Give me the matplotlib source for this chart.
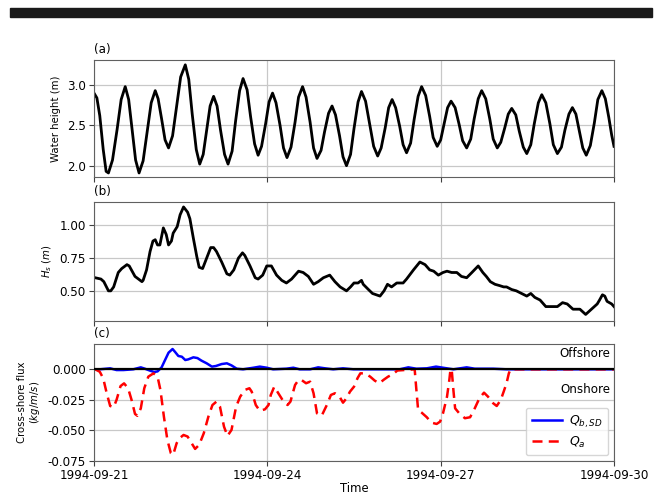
import numpy as np
import matplotlib
matplotlib.use("Agg")
import matplotlib.pyplot as plt
import matplotlib.dates as mdates
from matplotlib.patches import Rectangle

# time axis: days after 1994-09-21 00:00
start = np.datetime64("1994-09-21T00:00")

# (a) water height (m)
wl_t = [0.00, 0.05, 0.10, 0.16, 0.21, 0.25, 0.32, 0.40, 0.47, 0.54, 0.60, 0.66, 0.72, 0.78,
        0.85, 0.92, 0.99, 1.06, 1.11, 1.17, 1.23, 1.29, 1.36, 1.43, 1.50, 1.58, 1.64, 1.70,
        1.77, 1.83, 1.89, 1.95, 2.01, 2.07, 2.13, 2.19, 2.26, 2.32, 2.39, 2.45, 2.52, 2.58,
        2.65, 2.71, 2.78, 2.84, 2.90, 2.97, 3.03, 3.09, 3.15, 3.22, 3.28, 3.34, 3.41, 3.48,
        3.54, 3.61, 3.67, 3.74, 3.80, 3.86, 3.93, 3.99, 4.06, 4.12, 4.18, 4.25, 4.31, 4.37,
        4.44, 4.50, 4.57, 4.63, 4.70, 4.77, 4.84, 4.91, 4.97, 5.04, 5.10, 5.16, 5.22, 5.29,
        5.35, 5.41, 5.48, 5.54, 5.61, 5.67, 5.74, 5.81, 5.87, 5.94, 6.00, 6.06, 6.12, 6.18,
        6.25, 6.32, 6.38, 6.45, 6.52, 6.58, 6.65, 6.71, 6.78, 6.85, 6.91, 6.98, 7.04, 7.11,
        7.17, 7.23, 7.30, 7.36, 7.43, 7.49, 7.56, 7.62, 7.69, 7.75, 7.82, 7.89, 7.95, 8.02,
        8.09, 8.15, 8.22, 8.28, 8.34, 8.40, 8.46, 8.52, 8.59, 8.66, 8.72, 8.79, 8.85, 8.91,
        8.96, 9.00]
wl = [2.90, 2.84, 2.62, 2.20, 1.93, 1.91, 2.07, 2.45, 2.82, 2.98, 2.82, 2.45, 2.07, 1.91,
      2.06, 2.42, 2.78, 2.93, 2.83, 2.58, 2.32, 2.22, 2.37, 2.74, 3.10, 3.25, 3.07, 2.64,
      2.20, 2.02, 2.14, 2.44, 2.74, 2.86, 2.74, 2.44, 2.14, 2.02, 2.18, 2.55, 2.93, 3.08,
      2.94, 2.61, 2.27, 2.13, 2.24, 2.52, 2.79, 2.90, 2.78, 2.50, 2.22, 2.10, 2.23, 2.54,
      2.85, 2.98, 2.85, 2.54, 2.22, 2.09, 2.19, 2.42, 2.65, 2.74, 2.63, 2.37, 2.11, 2.00,
      2.14, 2.46, 2.79, 2.92, 2.80, 2.52, 2.24, 2.12, 2.22, 2.47, 2.72, 2.82, 2.72, 2.49,
      2.26, 2.16, 2.28, 2.57, 2.86, 2.98, 2.87, 2.61, 2.35, 2.24, 2.32, 2.52, 2.72, 2.80,
      2.72, 2.51, 2.31, 2.22, 2.33, 2.58, 2.83, 2.93, 2.83, 2.58, 2.33, 2.22, 2.29, 2.47,
      2.64, 2.71, 2.63, 2.43, 2.23, 2.15, 2.26, 2.52, 2.78, 2.88, 2.78, 2.52, 2.26, 2.15,
      2.23, 2.44, 2.64, 2.72, 2.64, 2.43, 2.22, 2.13, 2.25, 2.53, 2.82, 2.93, 2.83, 2.60,
      2.38, 2.24]

# (b) significant wave height Hs (m)
hs_t = [0.02, 0.12, 0.17, 0.25, 0.29, 0.34, 0.42, 0.48, 0.57, 0.61, 0.71, 0.77, 0.83, 0.85,
        0.91, 0.97, 1.02, 1.06, 1.10, 1.14, 1.20, 1.25, 1.29, 1.34, 1.37, 1.44, 1.49, 1.55,
        1.62, 1.66, 1.72, 1.78, 1.82, 1.88, 1.95, 2.02, 2.07, 2.12, 2.21, 2.30, 2.35, 2.42,
        2.50, 2.57, 2.61, 2.70, 2.79, 2.84, 2.92, 2.99, 3.07, 3.16, 3.25, 3.33, 3.42, 3.54,
        3.62, 3.71, 3.80, 3.88, 3.97, 4.08, 4.17, 4.26, 4.37, 4.44, 4.50, 4.57, 4.63, 4.66,
        4.75, 4.82, 4.95, 5.02, 5.08, 5.15, 5.24, 5.35, 5.41, 5.53, 5.64, 5.73, 5.81, 5.88,
        5.96, 6.04, 6.11, 6.19, 6.28, 6.36, 6.45, 6.54, 6.65, 6.73, 6.79, 6.86, 6.94, 7.02,
        7.09, 7.14, 7.23, 7.31, 7.40, 7.49, 7.56, 7.63, 7.72, 7.82, 7.92, 8.02, 8.11, 8.19,
        8.29, 8.41, 8.51, 8.61, 8.71, 8.75, 8.80, 8.84, 8.88, 8.96, 9.00]
hs = [0.60, 0.59, 0.57, 0.50, 0.50, 0.53, 0.64, 0.67, 0.70, 0.69, 0.61, 0.59, 0.57, 0.58,
      0.66, 0.80, 0.88, 0.89, 0.85, 0.85, 0.98, 0.93, 0.85, 0.88, 0.94, 0.99, 1.08, 1.14,
      1.10, 1.05, 0.90, 0.76, 0.68, 0.67, 0.75, 0.83, 0.83, 0.80, 0.72, 0.63, 0.62, 0.66,
      0.75, 0.79, 0.77, 0.69, 0.60, 0.59, 0.62, 0.69, 0.69, 0.62, 0.58, 0.56, 0.59, 0.65,
      0.64, 0.61, 0.55, 0.57, 0.60, 0.62, 0.57, 0.53, 0.50, 0.53, 0.56, 0.56, 0.58, 0.55,
      0.51, 0.48, 0.46, 0.50, 0.55, 0.53, 0.56, 0.56, 0.59, 0.66, 0.72, 0.70, 0.66, 0.65,
      0.62, 0.64, 0.65, 0.64, 0.64, 0.61, 0.60, 0.64, 0.69, 0.64, 0.61, 0.57, 0.55, 0.54,
      0.53, 0.53, 0.51, 0.50, 0.48, 0.46, 0.48, 0.45, 0.43, 0.38, 0.38, 0.38, 0.41, 0.40,
      0.36, 0.36, 0.32, 0.36, 0.40, 0.43, 0.47, 0.46, 0.42, 0.40, 0.38]

# (c) cross-shore flux (kg/m/s)
qb_t = [0.02, 0.10, 0.28, 0.39, 0.51, 0.68, 0.81, 0.88, 0.97, 1.04, 1.10, 1.17, 1.23, 1.29,
        1.36, 1.40, 1.46, 1.52, 1.58, 1.63, 1.72, 1.79, 1.86, 1.95, 2.04, 2.11, 2.21, 2.30,
        2.38, 2.47, 2.58, 2.76, 2.87, 2.99, 3.10, 3.33, 3.45, 3.56, 3.74, 3.88, 4.00, 4.14,
        4.31, 4.49, 5.29, 5.44, 5.58, 5.76, 5.92, 6.04, 6.22, 6.45, 6.59, 6.91, 7.14, 9.00]
qb = [0.0, 0.0, 0.0008, -0.0006, -0.0006, 0.0, 0.0016, 0.0005, -0.0011, -0.0022, -0.0017,
      0.0016, 0.0076, 0.0136, 0.0166, 0.0144, 0.0109, 0.0103, 0.0076, 0.0081, 0.0098, 0.0092,
      0.0071, 0.0049, 0.0022, 0.0027, 0.0043, 0.0049, 0.0032, 0.0005, 0.0, 0.0013, 0.0022,
      0.0013, 0.0, 0.0005, 0.0013, 0.0, 0.0, 0.0016, 0.0008, 0.0, 0.0008, 0.0, 0.0, 0.0016,
      0.0005, 0.0008, 0.0022, 0.0013, 0.0, 0.0016, 0.0005, 0.0005, 0.0, 0.0]

qa_t = [0.02, 0.10, 0.16, 0.22, 0.28, 0.34, 0.39, 0.46, 0.52, 0.59, 0.65, 0.71, 0.75, 0.81,
        0.87, 0.94, 1.03, 1.10, 1.15, 1.21, 1.27, 1.33, 1.37, 1.43, 1.48, 1.55, 1.62, 1.69,
        1.75, 1.82, 1.90, 1.98, 2.05, 2.12, 2.18, 2.25, 2.31, 2.38, 2.46, 2.53, 2.61, 2.69,
        2.73, 2.80, 2.87, 2.96, 3.02, 3.06, 3.12, 3.19, 3.27, 3.35, 3.40, 3.48, 3.54, 3.59,
        3.67, 3.74, 3.80, 3.86, 3.94, 4.03, 4.10, 4.17, 4.25, 4.31, 4.37, 4.43, 4.50, 4.56,
        4.61, 4.69, 4.78, 4.86, 4.94, 5.01, 5.09, 5.18, 5.25, 5.55, 5.58, 5.61, 5.67, 5.76,
        5.84, 5.93, 5.99, 6.04, 6.11, 6.15, 6.17, 6.19, 6.22, 6.25, 6.33, 6.42, 6.51, 6.59,
        6.67, 6.75, 6.82, 6.91, 6.97, 7.04, 7.09, 7.14, 7.18, 7.21, 9.00]
qa = [0.0, -0.002, -0.0074, -0.0196, -0.030, -0.031, -0.025, -0.0137, -0.0115, -0.0155,
      -0.025, -0.0365, -0.038, -0.032, -0.0155, -0.006, -0.0033, -0.006, -0.017, -0.0387,
      -0.0578, -0.0686, -0.070, -0.0605, -0.0564, -0.0537, -0.055, -0.0605, -0.0651, -0.0618,
      -0.0523, -0.0387, -0.0292, -0.0264, -0.0305, -0.0469, -0.0545, -0.0496, -0.0305, -0.0224,
      -0.0169, -0.0155, -0.0183, -0.0292, -0.034, -0.0327, -0.0292, -0.021, -0.0142, -0.0196,
      -0.0256, -0.0292, -0.0264, -0.0128, -0.0087, -0.0087, -0.0114, -0.0101, -0.0196, -0.036,
      -0.038, -0.0292, -0.021, -0.0196, -0.0224, -0.0273, -0.0237, -0.0183, -0.0142, -0.0074,
      -0.0033, -0.0033, -0.006, -0.0093, -0.0114, -0.0087, -0.006, -0.0038, -0.001, 0.0,
      -0.0169, -0.0332, -0.0354, -0.0392, -0.0436, -0.0447, -0.0428, -0.036, -0.0224, -0.0087,
      0.0, 0.0, -0.0169, -0.0319, -0.0365, -0.040, -0.0392, -0.0319, -0.0237, -0.0191,
      -0.0224, -0.0278, -0.030, -0.025, -0.0183, -0.0114, -0.0033, 0.0, 0.0]


def to_dates(days):
    return start + (np.array(days) * 24 * 60).round().astype("timedelta64[m]")


plt.rcParams["font.family"] = ["DejaVu Sans"]
plt.rcParams["font.size"] = 8.6

fig = plt.figure(figsize=(6.59, 4.95), dpi=100)
# black bar across the top of the page
fig.patches.append(Rectangle((10 / 659, 1 - 17 / 495), 642 / 659, 9 / 495,
                             transform=fig.transFigure, color="#1a1a1a", zorder=0))

left, width = 94 / 659, 520 / 659
ax_a = fig.add_axes([left, 1 - 177 / 495, width, 117 / 495])
ax_b = fig.add_axes([left, 1 - 321 / 495, width, 119.3 / 495], sharex=ax_a)
ax_c = fig.add_axes([left, 1 - 461 / 495, width, 117 / 495], sharex=ax_a)

ax_a.plot(to_dates(wl_t), wl, color="black", lw=2)
ax_b.plot(to_dates(hs_t), hs, color="black", lw=2)
ax_c.axhline(0, color="black", lw=1.6, zorder=3)
ax_c.plot(to_dates(qb_t), qb, color="blue", lw=1.8, label=r"$Q_{b,SD}$")
ax_c.plot(to_dates(qa_t), qa, color="red", lw=1.8, ls=(0, (4, 2.5)), label=r"$Q_a$")

ax_a.set_ylim(1.86, 3.31)
ax_a.set_yticks([2.0, 2.5, 3.0])
ax_b.set_ylim(0.27, 1.18)
ax_b.set_yticks([0.50, 0.75, 1.00])
ax_c.set_ylim(-0.075, 0.0207)
ax_c.set_yticks([-0.075, -0.05, -0.025, 0.0])
ax_c.yaxis.set_major_formatter(matplotlib.ticker.FormatStrFormatter("%.3f"))
ax_b.yaxis.set_major_formatter(matplotlib.ticker.FormatStrFormatter("%.2f"))

ax_c.set_xlim(np.datetime64("1994-09-21"), np.datetime64("1994-09-30"))
ax_c.xaxis.set_major_locator(mdates.DayLocator(bymonthday=[21, 24, 27, 30]))
ax_c.xaxis.set_major_formatter(mdates.DateFormatter("%Y-%m-%d"))

for ax, lab in zip([ax_a, ax_b, ax_c], ["(a)", "(b)", "(c)"]):
    ax.grid(True, color="#c8c8c8", lw=0.9)
    for s in ax.spines.values():
        s.set_color("#606060")
    ax.tick_params(colors="#404040", labelcolor="black", length=3.5, pad=2.5)
    ax.text(0.0, 1.03, lab, transform=ax.transAxes, ha="left", va="bottom")
ax_a.tick_params(labelbottom=False)
ax_b.tick_params(labelbottom=False)

ax_a.set_ylabel("Water height (m)", fontsize=7.3)
ax_b.set_ylabel(r"$H_s\ (m)$", fontsize=7.3)
ax_c.set_ylabel("Cross-shore flux\n$(kg/m/s)$", fontsize=7.3, linespacing=1.1)
ax_c.set_xlabel("Time", labelpad=0, fontsize=8.4)

ax_c.text(0.993, 0.923, "Offshore", transform=ax_c.transAxes, ha="right", va="center")
ax_c.text(0.993, 0.607, "Onshore", transform=ax_c.transAxes, ha="right", va="center")
ax_c.legend(loc="lower right", fontsize=9, handlelength=2.4, handletextpad=0.6,
            borderaxespad=0.45, borderpad=0.45, labelspacing=0.4)

fig.savefig("out.png", dpi=100)
